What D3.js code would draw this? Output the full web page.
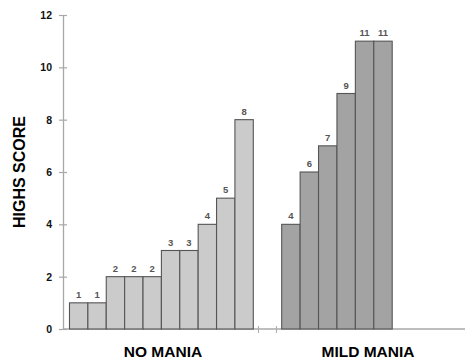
<!DOCTYPE html>
<html><head><meta charset="utf-8">
<script src="https://cdn.jsdelivr.net/npm/d3@7"></script>
<style>body{margin:0;background:#fff}svg{display:block}</style>
</head><body>
<svg id="c" width="466" height="362"></svg>
<script>
const categories = ["NO MANIA", "MILD MANIA"];
const noManiaValues = [1, 1, 2, 2, 2, 3, 3, 4, 5, 8];
const mildManiaValues = [4, 6, 7, 9, 11, 11];
const yTicks = [0, 2, 4, 6, 8, 10, 12];
const yLabel = "HIGHS SCORE";

const svg = d3.select("#c");
const y = d3.scaleLinear().domain([0, 12]).range([329, 15]);
const xAxisPos = 63;

const x1 = d3.scaleBand().domain(d3.range(noManiaValues.length)).range([69.5, 253.3]).padding(0);
const x2 = d3.scaleBand().domain(d3.range(mildManiaValues.length)).range([281.7, 392.2]).padding(0);

// axes
const yAxis = d3.axisLeft(y).tickValues(yTicks).tickSize(0).tickPadding(11).tickFormat(d3.format("d"));
const gy = svg.append("g").attr("transform", `translate(${xAxisPos},0)`).call(yAxis);
gy.select(".domain").attr("stroke", "#a8a8a8").attr("stroke-width", 1.3);
gy.selectAll(".tick text").attr("font-family", "Liberation Sans, Arial, sans-serif")
  .attr("font-weight", "bold").attr("font-size", 10.5).attr("fill", "#111");
gy.selectAll(".tick").append("line").attr("x1", -4).attr("x2", 4).attr("stroke", "#a8a8a8").attr("stroke-width", 1.2);

svg.append("line").attr("x1", xAxisPos).attr("x2", 465).attr("y1", y(0)).attr("y2", y(0))
  .attr("stroke", "#a8a8a8").attr("stroke-width", 1.3);
// small break ticks on x axis
[258.5, 276.5].forEach(t => {
  svg.append("line").attr("x1", t).attr("x2", t).attr("y1", y(0) - 3).attr("y2", y(0) + 4)
    .attr("stroke", "#b0b0b0").attr("stroke-width", 1.1);
});

function drawGroup(vals, xs, fill) {
  const g = svg.append("g");
  g.selectAll("rect").data(vals).join("rect")
    .attr("x", (d, i) => xs(i)).attr("y", d => y(d))
    .attr("width", xs.bandwidth()).attr("height", d => y(0) - y(d))
    .attr("fill", fill).attr("stroke", "#555").attr("stroke-width", 1.1);
  g.selectAll("text").data(vals).join("text")
    .attr("x", (d, i) => xs(i) + xs.bandwidth() / 2).attr("y", d => y(d) - 5)
    .attr("text-anchor", "middle")
    .attr("font-family", "Liberation Sans, Arial, sans-serif").attr("font-weight", "bold")
    .attr("font-size", 9.5).attr("fill", "#555").text(d => d);
}
drawGroup(noManiaValues, x1, "#cbcbcb");
drawGroup(mildManiaValues, x2, "#a3a3a3");

// category labels
const catX = [163, 368];
svg.selectAll("text.cat").data(categories).join("text").attr("class", "cat")
  .attr("x", (d, i) => catX[i]).attr("y", 357).attr("text-anchor", "middle")
  .attr("font-family", "Liberation Sans, Arial, sans-serif").attr("font-weight", "bold")
  .attr("font-size", 15.5).attr("fill", "#000").text(d => d);

svg.append("text").attr("transform", "translate(25,172) rotate(-90)")
  .attr("text-anchor", "middle")
  .attr("font-family", "Liberation Sans, Arial, sans-serif").attr("font-weight", "bold")
  .attr("font-size", 16).attr("fill", "#000").text(yLabel);
</script>
</body></html>
